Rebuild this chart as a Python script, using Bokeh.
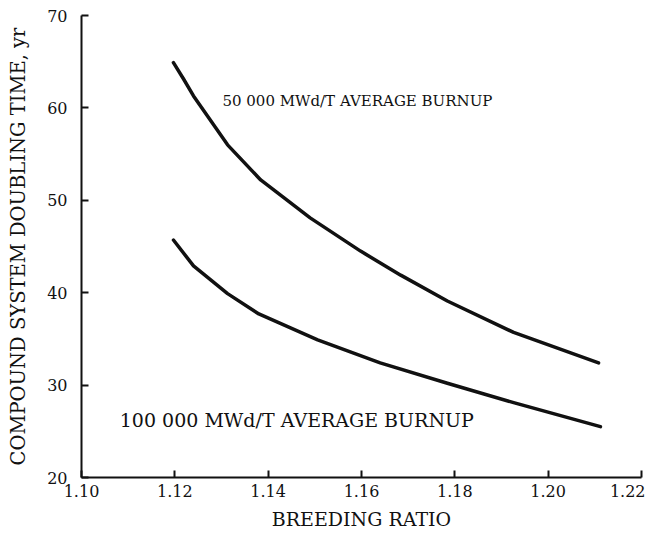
from bokeh.plotting import figure
from bokeh.models import Range1d, FixedTicker, Label
from bokeh.embed import file_html
from bokeh.resources import INLINE

# Data
ratio_50k = [1.1197, 1.1219, 1.124, 1.1313, 1.1384, 1.149, 1.1598, 1.1684, 1.1784, 1.1926, 1.2108]
doubling_50k = [64.9, 63.1, 61.3, 56.0, 52.2, 48.1, 44.5, 41.9, 39.1, 35.7, 32.4]
ratio_100k = [1.1197, 1.124, 1.1313, 1.138, 1.1506, 1.164, 1.1784, 1.1926, 1.2112]
doubling_100k = [45.7, 42.9, 39.9, 37.7, 34.9, 32.4, 30.2, 28.1, 25.5]

x_ticks = [1.10, 1.12, 1.14, 1.16, 1.18, 1.20, 1.22]
x_tick_labels = ["1.10", "1.12", "1.14", "1.16", "1.18", "1.20", "1.22"]
y_ticks = [20, 30, 40, 50, 60, 70]
y_tick_labels = ["20", "30", "40", "50", "60", "70"]

label_50k = "50 000 MWd/T AVERAGE BURNUP"
label_100k = "100 000 MWd/T AVERAGE BURNUP"
x_title = "BREEDING RATIO"
y_title = "COMPOUND SYSTEM DOUBLING TIME, yr"

FONT = "DejaVu Serif"
INK = "#111111"

p = figure(width=645, height=542, output_backend="svg", toolbar_location=None,
           x_range=Range1d(1.10, 1.22), y_range=Range1d(20, 70),
           min_border_left=81, min_border_right=4, min_border_top=15, min_border_bottom=65)
p.outline_line_color = None
p.background_fill_color = "white"
p.border_fill_color = "white"
p.xgrid.visible = False
p.ygrid.visible = False

for ax in (p.xaxis[0], p.yaxis[0]):
    ax.axis_line_width = 2
    ax.axis_line_color = INK
    ax.major_tick_line_color = INK
    ax.major_tick_line_width = 2
    ax.major_tick_in = 7
    ax.major_tick_out = 0
    ax.minor_tick_line_color = None
    ax.major_label_text_font = FONT
    ax.major_label_text_font_size = "16px"
    ax.major_label_text_color = INK
    ax.axis_label_text_font = FONT
    ax.axis_label_text_font_style = "normal"
    ax.axis_label_text_color = INK

p.xaxis.ticker = FixedTicker(ticks=x_ticks)
p.xaxis.major_label_overrides = {v: s for v, s in zip(x_ticks, x_tick_labels)}
p.yaxis.ticker = FixedTicker(ticks=y_ticks)
p.yaxis.major_label_overrides = {v: s for v, s in zip(y_ticks, y_tick_labels)}

p.xaxis.axis_label = x_title
p.xaxis.axis_label_text_font_size = "19px"
p.xaxis.major_label_standoff = 7
p.xaxis.axis_label_standoff = 8

p.yaxis.axis_label = y_title
p.yaxis.axis_label_text_font_size = "19.5px"
p.yaxis.major_label_standoff = 14
p.yaxis.axis_label_standoff = 14

p.line(ratio_50k, doubling_50k, line_width=3.5, line_color=INK, line_cap="round", line_join="round")
p.line(ratio_100k, doubling_100k, line_width=3.5, line_color=INK, line_cap="round", line_join="round")

p.add_layout(Label(x=1.1302, y=60.8, text=label_50k, text_font=FONT, text_font_size="15px",
                   text_color=INK, text_baseline="middle", text_align="left"))
p.add_layout(Label(x=1.1082, y=26.2, text=label_100k, text_font=FONT, text_font_size="19px",
                   text_color=INK, text_baseline="middle", text_align="left"))

open("out.html", "w").write(file_html(p, INLINE))
